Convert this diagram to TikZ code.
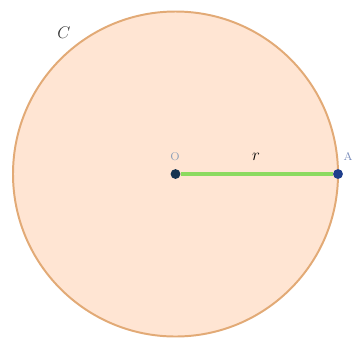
\documentclass[tikz,border=0pt]{standalone}
\usepackage{amsmath,amssymb}
\usepackage{tikz}
\usetikzlibrary{positioning}
\definecolor{discfill}{RGB}{255,229,211}
\definecolor{discline}{RGB}{226,170,118}
\definecolor{radcolor}{RGB}{140,218,95}
\definecolor{ptcolor}{RGB}{22,52,80}
\definecolor{ptacolor}{RGB}{30,62,140}
\definecolor{olabel}{RGB}{140,160,185}

\begin{document}
\begin{tikzpicture}[x=0.025cm,y=-0.025cm,
  disc/.style={circle,draw=discline,fill=discfill,line width=1.4pt,
               minimum size=325*0.025cm,inner sep=0pt},
  pt/.style={circle,fill=ptcolor,inner sep=0pt,minimum size=7pt},
  radius/.style={line width=2.6pt,radcolor},
  lbl/.style={font=\large,inner sep=1pt}
]
\useasboundingbox (0,0) rectangle (353,338);
\node[disc] (c) at (175.5,174) {};
\node[pt] (o) at (175.5,174) {};
\node[pt,fill=ptacolor] (a) at (338,174) {};
\draw[radius] (o) -- (a);
\node[lbl,text=olabel,font=\footnotesize] (olbl) at (175,157) {O};
\node[lbl] (rlbl) at (256,157) {$r$};
\node[lbl,text=ptacolor!60,font=\footnotesize] (albl) at (348,156) {A};
\node[lbl,text=black!80] (clbl) at (64,33) {$C$};
\end{tikzpicture}
\end{document}
